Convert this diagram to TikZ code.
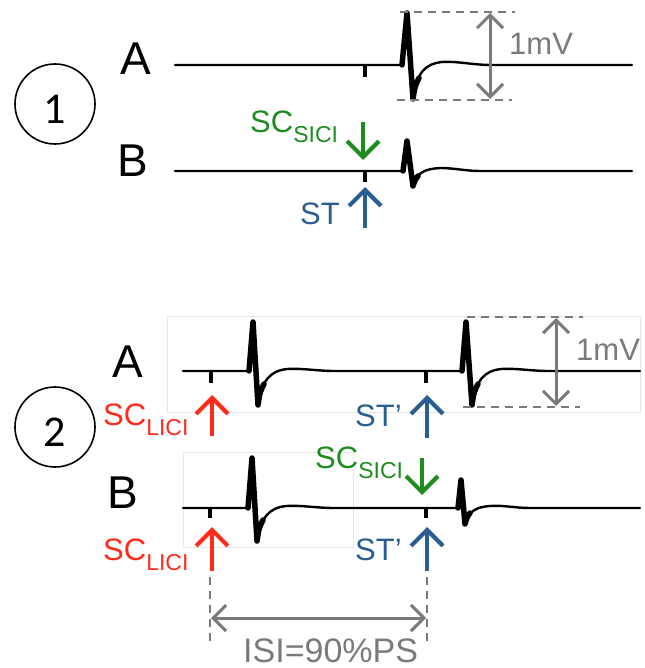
\documentclass[tikz,border=0pt]{standalone}
\usepackage{fontspec}
\setmainfont{Liberation Sans}
\newfontfamily\circfont{Carlito}
\usetikzlibrary{arrows.meta}
\definecolor{scgreen}{HTML}{1E8C1E}
\definecolor{stblue}{HTML}{2A5E92}
\definecolor{lred}{HTML}{FF2A1A}
\definecolor{dimgray}{HTML}{7A7A7A}
\definecolor{faint}{HTML}{E6E6E6}
\tikzset{
  trace/.style={black, line width=2.4pt, line join=round, line cap=round},
  spk/.style={black, line width=5.5pt, line join=round, line cap=round},
  artifact/.style={fill=black, draw=none},
  letter/.style={font=\fontsize{46}{46}\selectfont, inner sep=0pt, anchor=base west},
  numcirc/.style={circle, draw=black, line width=1.6pt, minimum size=80pt, inner sep=0pt},
  numtext/.style={font=\circfont\fontsize{44}{44}\selectfont, inner sep=0pt},
  lab/.style={inner sep=0pt, anchor=base west, text depth=0pt},
  stimarrow/.style={line width=4.2pt, -{Straight Barb[length=16pt,width=32pt]}},
  scalebar/.style={dimgray, line width=3pt, {Straight Barb[length=13pt,width=26pt]}-{Straight Barb[length=13pt,width=26pt]}},
  dashline/.style={dimgray, line width=2pt, dash pattern=on 8pt off 6pt},
  faintbox/.style={draw=faint, line width=1pt}
}
\newcommand{\SCsub}[1]{{\fontsize{31}{31}\selectfont SC}\raisebox{-10pt}{\fontsize{23}{23}\selectfont #1}}
\newcommand{\bigtxt}{\fontsize{31}{31}\selectfont}
\begin{document}
\begin{tikzpicture}[x=1pt,y=-1pt]
\useasboundingbox (0,0) rectangle (644,668);

% ---------- Panel 1 ----------
\node[numcirc] (c1) at (55,104) {};
\node[numtext] (n1) at (55,109) {1};
\node[letter] (A1) at (120,75) {A};
\node[letter] (B1) at (117,177) {B};

% trace A1
\draw[trace] (175,65) -- (402,65) -- (407,13) -- (413,99)
  .. controls (417,72) and (425,64) .. (442,62)
  .. controls (458,61) and (472,65) .. (492,65) -- (632,65);
\draw[spk] (402,65) -- (407,13) -- (413,99) .. controls (415,86) .. (419,78);
\fill[artifact] (363,65) rectangle (367,77);

% trace B1
\draw[trace] (175,171) -- (403,171) -- (407,141) -- (413,186)
  .. controls (417,172) and (425,169) .. (440,168)
  .. controls (455,168) and (465,171) .. (480,171) -- (632,171);
\draw[spk] (403,171) -- (407,141) -- (413,186) .. controls (415,180) .. (418,176);
\fill[artifact] (363,171) rectangle (367,182);

% scale bar 1
\coordinate (t1a) at (400,12); \coordinate (t1b) at (515,12);
\coordinate (b1a) at (397,100); \coordinate (b1b) at (512,100);
\draw[dashline] (t1a) -- (t1b);
\draw[dashline] (b1a) -- (b1b);
\coordinate (s1t) at (490,13); \coordinate (s1b) at (490,99);
\draw[scalebar] (s1t) -- (s1b);
\node[lab, dimgray, font=\bigtxt] (mv1) at (509,55) {1mV};

% stimulus arrows panel 1
\coordinate (g1s) at (363,122); \coordinate (g1e) at (363,160);
\draw[stimarrow, scgreen] (g1s) -- (g1e);
\node[lab, scgreen] (sc1) at (250,133) {\SCsub{SICI}};
\coordinate (bl1s) at (365,228); \coordinate (bl1e) at (365,187);
\draw[stimarrow, stblue] (bl1s) -- (bl1e);
\node[lab, stblue, font=\bigtxt] (st1) at (300,224) {ST};

% ---------- Panel 2 ----------
\draw[faintbox] (167,316) rectangle (640,412);
\draw[faintbox] (183,452) rectangle (353,547);

\node[numcirc] (c2) at (55,427) {};
\node[numtext] (n2) at (55,432) {2};
\node[letter] (A2) at (112,377) {A};
\node[letter] (B2) at (107,508) {B};

% trace A2
\draw[trace] (183,371) -- (249,371) -- (253,322) -- (258,405)
  .. controls (262,380) and (270,371) .. (287,369)
  .. controls (302,368) and (317,371) .. (335,371) -- (462,371) -- (466,322) -- (472,405)
  .. controls (476,380) and (484,371) .. (501,369)
  .. controls (516,368) and (531,371) .. (549,371) -- (640,371);
\draw[spk] (249,371) -- (253,322) -- (258,405) .. controls (260,392) .. (264,384);
\draw[spk] (462,371) -- (466,322) -- (472,405) .. controls (474,392) .. (478,384);
\fill[artifact] (209,371) rectangle (213,383);
\fill[artifact] (424,371) rectangle (428,383);

% trace B2
\draw[trace] (183,508) -- (248,508) -- (252,458) -- (257,541)
  .. controls (261,517) and (269,508) .. (286,506)
  .. controls (301,505) and (316,508) .. (334,508) -- (458,508) -- (461,480) -- (465,524)
  .. controls (469,511) and (476,507) .. (490,506)
  .. controls (503,505) and (515,508) .. (530,508) -- (640,508);
\draw[spk] (248,508) -- (252,458) -- (257,541) .. controls (259,528) .. (263,520);
\draw[spk] (458,508) -- (461,480) -- (465,524) .. controls (467,517) .. (470,513);
\fill[artifact] (208,508) rectangle (212,518);
\fill[artifact] (424,508) rectangle (428,518);

% scale bar 2
\coordinate (t2a) at (467,317); \coordinate (t2b) at (583,317);
\coordinate (b2a) at (463,407); \coordinate (b2b) at (580,407);
\draw[dashline] (t2a) -- (t2b);
\draw[dashline] (b2a) -- (b2b);
\coordinate (s2t) at (556,318); \coordinate (s2b) at (556,406);
\draw[scalebar] (s2t) -- (s2b);
\node[lab, dimgray, font=\bigtxt] (mv2) at (576,360) {1mV};

% stimulus arrows panel 2, row A
\coordinate (r1s) at (212,436); \coordinate (r1e) at (212,395);
\draw[stimarrow, lred] (r1s) -- (r1e);
\node[lab, lred] (lici1) at (103,425) {\SCsub{LICI}};
\coordinate (bl2s) at (427,438); \coordinate (bl2e) at (427,395);
\draw[stimarrow, stblue] (bl2s) -- (bl2e);
\node[lab, stblue, font=\bigtxt] (st2) at (355,426) {ST’};

% row B
\coordinate (g2s) at (422,458); \coordinate (g2e) at (422,495);
\draw[stimarrow, scgreen] (g2s) -- (g2e);
\node[lab, scgreen] (sc2) at (315,468) {\SCsub{SICI}};
\coordinate (r2s) at (212,571); \coordinate (r2e) at (212,527);
\draw[stimarrow, lred] (r2s) -- (r2e);
\node[lab, lred] (lici2) at (103,560) {\SCsub{LICI}};
\coordinate (bl3s) at (427,571); \coordinate (bl3e) at (427,527);
\draw[stimarrow, stblue] (bl3s) -- (bl3e);
\node[lab, stblue, font=\bigtxt] (st3) at (355,560) {ST’};

% ISI
\coordinate (v1t) at (210,577); \coordinate (v1b) at (210,642);
\coordinate (v2t) at (427,577); \coordinate (v2b) at (427,642);
\draw[dashline] (v1t) -- (v1b);
\draw[dashline] (v2t) -- (v2b);
\coordinate (isiL) at (211,618); \coordinate (isiR) at (426,618);
\draw[scalebar] (isiL) -- (isiR);
\node[lab, dimgray, font=\fontsize{34}{34}\selectfont] (isi) at (243,662) {ISI=90\%PS};
\end{tikzpicture}
\end{document}
